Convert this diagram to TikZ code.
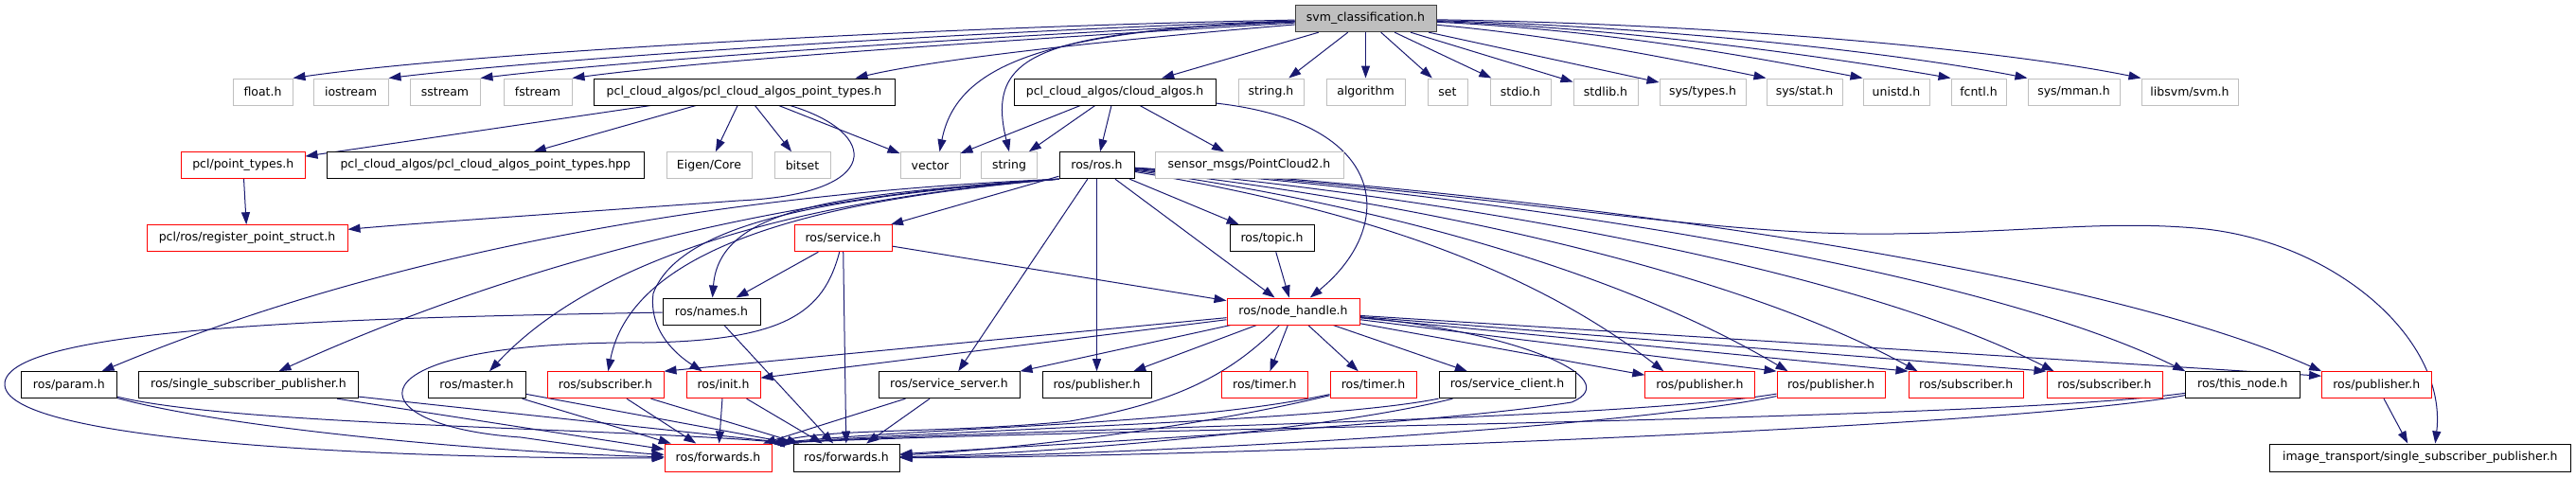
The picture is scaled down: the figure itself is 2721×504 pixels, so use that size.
\documentclass[tikz,border=0pt]{standalone}
\usepackage{fontspec}
\setmainfont{DejaVu Sans}
\usetikzlibrary{arrows.meta}
\definecolor{edgeblue}{HTML}{191970}
\definecolor{boxgray}{HTML}{BFBFBF}
\definecolor{boxred}{HTML}{FF0000}
\pgfdeclarelayer{bg}
\pgfsetlayers{bg,main}
\tikzset{
  basebox/.style={rectangle, minimum height=28pt, inner sep=0pt, line width=1pt, fill=white, text=black, font=\fontsize{12.5}{15}\selectfont},
  gbox/.style={basebox, draw=boxgray},
  bbox/.style={basebox, draw=black},
  rbox/.style={basebox, draw=boxred},
  rootbox/.style={basebox, draw=black!75, fill=boxgray},
  e/.style={draw=edgeblue, line width=1pt, -{Triangle[length=13pt,width=9pt]}},
}
\begin{document}
\begin{tikzpicture}[x=1pt,y=-1pt]
\useasboundingbox (0,0) rectangle (2721,504);
% row 1
\node[rootbox, minimum width=149pt] (svm) at (1442.5,19.7) {svm\_classification.h};
% row 2
\node[gbox, minimum width=63pt] (float) at (277.5,97) {float.h};
\node[gbox, minimum width=79pt] (iostream) at (370.5,97) {iostream};
\node[gbox, minimum width=74pt] (sstream) at (470,97) {sstream};
\node[gbox, minimum width=72pt] (fstream) at (568,97) {fstream};
\node[bbox, minimum width=318pt] (pclpt) at (786,97) {pcl\_cloud\_algos/pcl\_cloud\_algos\_point\_types.h};
\node[bbox, minimum width=213pt] (cloud) at (1177.5,97) {pcl\_cloud\_algos/cloud\_algos.h};
\node[gbox, minimum width=69pt] (stringh) at (1342.5,97) {string.h};
\node[gbox, minimum width=83pt] (algorithm) at (1442.5,97) {algorithm};
\node[gbox, minimum width=42pt] (set) at (1529,97) {set};
\node[gbox, minimum width=64pt] (stdio) at (1606,97) {stdio.h};
\node[gbox, minimum width=68pt] (stdlib) at (1696,97) {stdlib.h};
\node[gbox, minimum width=91pt] (systypes) at (1798.5,97) {sys/types.h};
\node[gbox, minimum width=80pt] (sysstat) at (1906,97) {sys/stat.h};
\node[gbox, minimum width=70pt] (unistd) at (2003,97) {unistd.h};
\node[gbox, minimum width=58pt] (fcntl) at (2090,97) {fcntl.h};
\node[gbox, minimum width=97pt] (sysmman) at (2190.5,97) {sys/mman.h};
\node[gbox, minimum width=102pt] (libsvm) at (2313,97) {libsvm/svm.h};
% row 3
\node[rbox, minimum width=130.5pt] (pcltypes) at (256.75,174.7) {pcl/point\_types.h};
\node[bbox, minimum width=334.5pt] (pclhpp) at (512.75,174.7) {pcl\_cloud\_algos/pcl\_cloud\_algos\_point\_types.hpp};
\node[gbox, minimum width=90pt] (eigen) at (749,174.7) {Eigen/Core};
\node[gbox, minimum width=59pt] (bitset) at (847.5,174.7) {bitset};
\node[gbox, minimum width=63pt] (vector) at (982.5,174.7) {vector};
\node[gbox, minimum width=58.5pt] (string) at (1066,174.7) {string};
\node[bbox, minimum width=79pt] (rosros) at (1158.5,174.7) {ros/ros.h};
\node[gbox, minimum width=199pt] (sensor) at (1319.5,174.7) {sensor\_msgs/PointCloud2.h};
% row 4
\node[rbox, minimum width=212pt] (regpt) at (261,251.7) {pcl/ros/register\_point\_struct.h};
\node[rbox, minimum width=103pt] (service) at (890.5,251.7) {ros/service.h};
\node[bbox, minimum width=89pt] (topic) at (1343.5,251.7) {ros/topic.h};
% row 5
\node[bbox, minimum width=103pt] (names) at (751.5,329) {ros/names.h};
\node[rbox, minimum width=140pt] (nodehandle) at (1366,329) {ros/node\_handle.h};
% row 6
\node[bbox, minimum width=100.3pt] (param) at (72.85,406.7) {ros/param.h};
\node[bbox, minimum width=231.6pt] (ssp) at (262.5,406.7) {ros/single\_subscriber\_publisher.h};
\node[bbox, minimum width=103pt] (master) at (503.5,406.7) {ros/master.h};
\node[rbox, minimum width=123pt] (sub1) at (639.5,406.7) {ros/subscriber.h};
\node[rbox, minimum width=78pt] (init) at (764,406.7) {ros/init.h};
\node[bbox, minimum width=149pt] (sserver) at (1002.5,406.7) {ros/service\_server.h};
\node[bbox, minimum width=115pt] (pub1) at (1158.5,406.7) {ros/publisher.h};
\node[rbox, minimum width=90.4pt] (timer1) at (1335.8,406.7) {ros/timer.h};
\node[rbox, minimum width=91pt] (timer2) at (1450.5,406.7) {ros/timer.h};
\node[bbox, minimum width=144pt] (sclient) at (1592,406.7) {ros/service\_client.h};
\node[rbox, minimum width=115.2pt] (pub2) at (1795.4,406.7) {ros/publisher.h};
\node[rbox, minimum width=114pt] (pub3) at (1934,406.7) {ros/publisher.h};
\node[rbox, minimum width=121.5pt] (sub2) at (2076.75,406.7) {ros/subscriber.h};
\node[rbox, minimum width=122pt] (sub3) at (2223,406.7) {ros/subscriber.h};
\node[bbox, minimum width=120.3pt] (thisnode) at (2368.85,406.7) {ros/this\_node.h};
\node[rbox, minimum width=115.4pt] (pub4) at (2510.3,406.7) {ros/publisher.h};
% row 7
\node[rbox, minimum width=113pt, minimum height=29pt] (fwd1) at (758.5,483.5) {ros/forwards.h};
\node[bbox, minimum width=112pt, minimum height=29pt] (fwd2) at (894,483.5) {ros/forwards.h};
\node[bbox, minimum width=318.6pt, minimum height=29pt] (itssp) at (2556.3,483.5) {image\_transport/single\_subscriber\_publisher.h};

\begin{pgfonlayer}{bg}
% from svm_classification.h
\draw[e] (svm) .. controls (1000,28) and (500,55) .. (float.north east);
\draw[e] (svm) .. controls (1050,32) and (600,60) .. (iostream.north east);
\draw[e] (svm) .. controls (1080,36) and (680,62) .. (sstream.north east);
\draw[e] (svm) .. controls (1100,40) and (760,62) .. (fstream.north east);
\draw[e] (svm) .. controls (1200,40) and (1000,60) .. ([xshift=-42pt]pclpt.north east);
\draw[e] (svm) .. controls (1100,32) and (1010,70) .. ([xshift=10pt]vector.north);
\draw[e] (svm) .. controls (1100,34) and (1040,55) .. (string.north);
\draw[e] (svm) -- (cloud);
\draw[e] (svm) -- (stringh);
\draw[e] (svm) -- (algorithm);
\draw[e] (svm) -- (set);
\draw[e] (svm) -- (stdio);
\draw[e] (svm) -- (stdlib);
\draw[e] (svm) -- (systypes);
\draw[e] (svm) .. controls (1650,38) and (1780,65) .. (sysstat.north west);
\draw[e] (svm) .. controls (1700,32) and (1850,60) .. (unistd.north west);
\draw[e] (svm) .. controls (1720,30) and (1930,60) .. (fcntl.north west);
\draw[e] (svm) .. controls (1750,28) and (2000,55) .. (sysmman.north west);
\draw[e] (svm) .. controls (1800,25) and (2100,50) .. (libsvm.north west);
% from pcl_cloud_algos_point_types.h
\draw[e] (pclpt) -- (pcltypes);
\draw[e] (pclpt) -- (pclhpp);
\draw[e] (pclpt) -- (eigen);
\draw[e] (pclpt) -- (bitset);
\draw[e] (pclpt) -- (vector);
\draw[e] (pclpt) .. controls (930,140) and (935,205) .. (780,212) .. controls (600,225) and (450,235) .. (regpt);
\draw[e] (pcltypes) -- (regpt);
% from cloud_algos.h
\draw[e] (cloud) -- (vector);
\draw[e] (cloud) -- (string);
\draw[e] (cloud) -- (rosros);
\draw[e] (cloud) -- (sensor);
\draw[e] (cloud) .. controls (1470,130) and (1475,240) .. (nodehandle);
% from ros/ros.h
\draw[e] (rosros) -- (service);
\draw[e] (rosros) -- (topic);
\draw[e] (rosros.south west) .. controls (900,205) and (760,215) .. (names);
\draw[e] (rosros) -- (nodehandle);
\draw[e] (rosros.south west) .. controls (750,205) and (400,270) .. (param);
\draw[e] (rosros.south west) .. controls (800,207) and (520,290) .. (ssp);
\draw[e] (rosros.south west) .. controls (880,208) and (640,260) .. (master);
\draw[e] (rosros.south west) .. controls (900,208) and (670,250) .. (sub1);
\draw[e] (rosros.south west) .. controls (900,206) and (720,230) .. (690,310) .. controls (685,350) and (715,375) .. (init);
\draw[e] (rosros) -- (sserver);
\draw[e] (rosros) -- (pub1);
\draw[e] (rosros) .. controls (1400,215) and (1600,270) .. ([xshift=20pt]pub2.north west);
\draw[e] (rosros) .. controls (1430,212) and (1700,280) .. ([xshift=12pt]pub3.north west);
\draw[e] (rosros) .. controls (1470,210) and (1820,280) .. ([xshift=10pt]sub2.north west);
\draw[e] (rosros) .. controls (1520,208) and (1950,280) .. ([xshift=8pt]sub3.north west);
\draw[e] (rosros) .. controls (1570,205) and (2080,280) .. (thisnode.north west);
\draw[e] (rosros) .. controls (1620,203) and (2200,280) .. (pub4.north west);
\draw[e] (rosros) .. controls (1600,205) and (1800,250) .. (2000,247) .. controls (2150,245) and (2230,232) .. (2330,242) .. controls (2470,258) and (2585,360) .. ([xshift=16pt]itssp.north);
% from ros/service.h and ros/topic.h
\draw[e] (service) -- (names);
\draw[e] (service) -- (fwd2);
\draw[e] (service) -- (nodehandle);
\draw[e] (service) .. controls (870,330) and (830,360) .. (680,362) .. controls (360,360) and (370,450) .. (550,462) .. controls (620,472) and (660,478) .. (fwd1);
\draw[e] (topic) -- (nodehandle);
% from ros/names.h
\draw[e] (names) -- (fwd2);
\draw[e] (names) .. controls (450,335) and (0,340) .. (5,407) .. controls (10,470) and (450,485) .. (fwd1);
% from ros/node_handle.h
\draw[e] (nodehandle) -- (sub1.north east);
\draw[e] (nodehandle) -- ([yshift=-7pt]init.north east);
\draw[e] (nodehandle) -- (sserver.north east);
\draw[e] (nodehandle) -- (pub1);
\draw[e] (nodehandle) -- (timer1);
\draw[e] (nodehandle) -- (timer2);
\draw[e] (nodehandle) -- (sclient);
\draw[e] (nodehandle) -- ([yshift=-4pt]pub2.north west);
\draw[e] (nodehandle) -- (pub3.north west);
\draw[e] (nodehandle) -- (sub2.north west);
\draw[e] (nodehandle) -- (sub3.north west);
\draw[e] (nodehandle) -- ([yshift=-5pt]pub4.north west);
\draw[e] (nodehandle) .. controls (1300,395) and (1245,425) .. (1130,445) .. controls (1000,458) and (880,452) .. (fwd1.north east);
\draw[e] (nodehandle) .. controls (1600,350) and (1720,400) .. (1660,425) .. controls (1500,450) and (1100,470) .. (fwd2);
% row 6 to forwards
\draw[e] (param) .. controls (250,455) and (550,480) .. (fwd1);
\draw[e] (param) .. controls (250,450) and (650,452) .. (fwd2.north west);
\draw[e] (ssp) -- (fwd1);
\draw[e] (ssp) -- (fwd2.north west);
\draw[e] (master) -- (fwd1);
\draw[e] (master) -- (fwd2.north west);
\draw[e] (sub1) -- (fwd1);
\draw[e] (sub1) -- (fwd2);
\draw[e] (init) -- (fwd1);
\draw[e] (init) -- (fwd2);
\draw[e] (sserver) -- (fwd1);
\draw[e] (sserver) -- (fwd2);
\draw[e] (timer2) .. controls (1250,450) and (1000,450) .. (fwd1.north east);
\draw[e] (timer2) .. controls (1250,455) and (1050,476) .. (fwd2);
\draw[e] (sclient) .. controls (1400,445) and (1050,452) .. (fwd1.north east);
\draw[e] (sclient) .. controls (1400,455) and (1100,480) .. (fwd2);
\draw[e] (pub3) .. controls (1700,445) and (1100,452) .. (fwd1.north east);
\draw[e] (pub3) .. controls (1700,455) and (1150,482) .. (fwd2);
\draw[e] (thisnode) .. controls (2100,445) and (1150,452) .. (fwd1.north east);
\draw[e] (thisnode) .. controls (2100,455) and (1200,484) .. (fwd2);
\draw[e] (pub4) -- ([xshift=-13pt]itssp.north);
\end{pgfonlayer}
\end{tikzpicture}
\end{document}
